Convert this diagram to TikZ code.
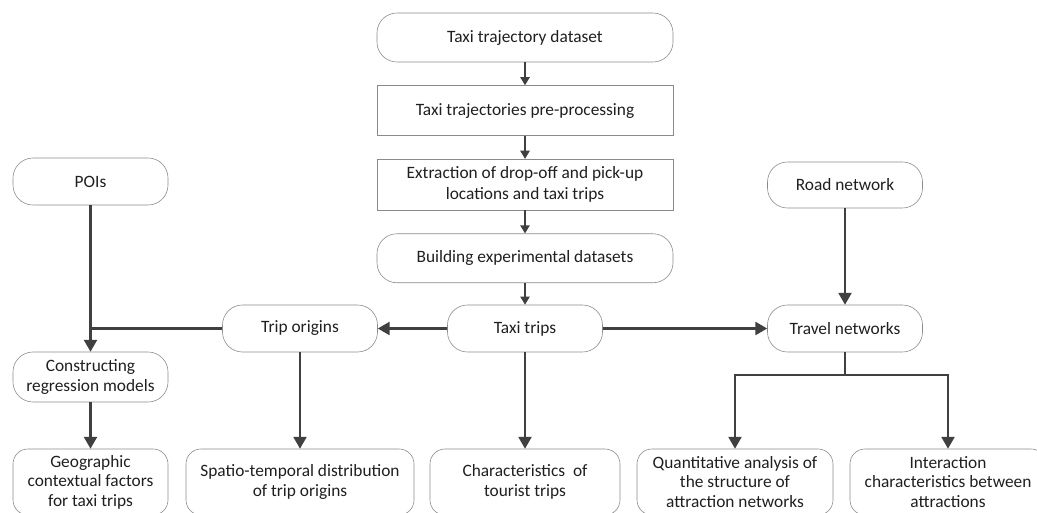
\documentclass[tikz,border=0pt]{standalone}
\usepackage{fontspec}
\setmainfont{Carlito}
\usetikzlibrary{positioning}
\usetikzlibrary{arrows.meta}

\definecolor{linegray}{HTML}{404040}
\definecolor{boxgray}{HTML}{8A8A8A}
\definecolor{textgray}{HTML}{1F1F1F}

\begin{document}
\begin{tikzpicture}[
        x=0.03cm, y=-0.03cm,
        node distance=0.69cm,
        every node/.style={font=\fontsize{14.8}{17.7}\selectfont, text=textgray, align=center, inner sep=2pt},
        terminal/.style={draw=boxgray, line width=0.5pt, rounded corners=0.6cm, minimum width=8.88cm, minimum height=1.47cm},
        process/.style={draw=boxgray, line width=0.5pt, minimum width=8.88cm, minimum height=1.5cm},
        source/.style={draw=boxgray, line width=0.5pt, rounded corners=0.6cm, minimum width=4.65cm, minimum height=1.41cm},
        stage/.style={draw=boxgray, line width=0.5pt, rounded corners=0.6cm, minimum width=4.65cm, minimum height=1.41cm},
        result/.style={draw=boxgray, line width=0.5pt, rounded corners=0.45cm, minimum height=1.98cm, font=\fontsize{14.8}{16.7}\selectfont},
        thinflow/.style={draw=linegray, line width=1.3pt, -{Triangle[length=7pt, width=8pt]}},
        flow/.style={draw=linegray, line width=1.8pt, -{Triangle[length=10pt, width=11pt]}},
        link/.style={draw=linegray, line width=1.8pt}
    ]
        \useasboundingbox (0,0) rectangle (1037,513);

        % main column
        \node[terminal] (dataset) at (525,37.5) {Taxi trajectory dataset};
        \node[process, below=of dataset] (preproc) {Taxi trajectories pre-processing};
        \node[process, below=of preproc, minimum height=1.53cm] (extract) {Extraction of drop-off and pick-up\\locations and taxi trips};
        \node[terminal, below=of extract] (build) {Building experimental datasets};

        % inputs
        \node[source] (pois) at (90.5,181.5) {POIs};
        \node[source, minimum height=1.38cm] (road) at (845,185) {Road network};

        % middle row
        \node[stage] (origins) at (300,328.5) {Trip origins};
        \node[stage] (trips) at (525,328.5) {Taxi trips};
        \node[stage] (travel) at (845,328.5) {Travel networks};
        \node[stage, minimum height=1.5cm] (regress) at (90.5,377) {Constructing\\regression models};

        % results
        \node[result, minimum width=4.65cm] (geo) at (90.5,482) {Geographic\\contextual factors\\for taxi trips};
        \node[result, minimum width=6.84cm] (spatio) at (300,482) {Spatio-temporal distribution\\of trip origins};
        \node[result, minimum width=5.7cm] (tourist) at (525,482) {Characteristics~ of\\tourist trips};
        \node[result, minimum width=5.88cm] (quant) at (735,482) {Quantitative analysis of\\the structure of\\attraction networks};
        \node[result, minimum width=5.88cm] (inter) at (948,482) {Interaction\\characteristics between\\attractions};

        \coordinate (join) at (origins -| pois);
        \coordinate (fork) at (845,375);

        \draw[thinflow] (dataset) -- (preproc);
        \draw[thinflow] (preproc) -- (extract);
        \draw[thinflow] (extract) -- (build);
        \draw[thinflow] (build) -- (trips);

        \draw[flow] (trips) -- (origins);
        \draw[flow] (trips) -- (travel);
        \draw[flow] (road) -- (travel);
        \draw[flow] (pois) -- (regress);
        \draw[link] (origins) -- (join);
        \draw[flow] (regress) -- (geo);
        \draw[flow] (origins) -- (spatio);
        \draw[flow] (trips) -- (tourist);
        \draw[link] (travel) -- (fork);
        \draw[flow] (fork) -| (quant);
        \draw[flow] (fork) -| (inter);
    \end{tikzpicture}
\end{document}
